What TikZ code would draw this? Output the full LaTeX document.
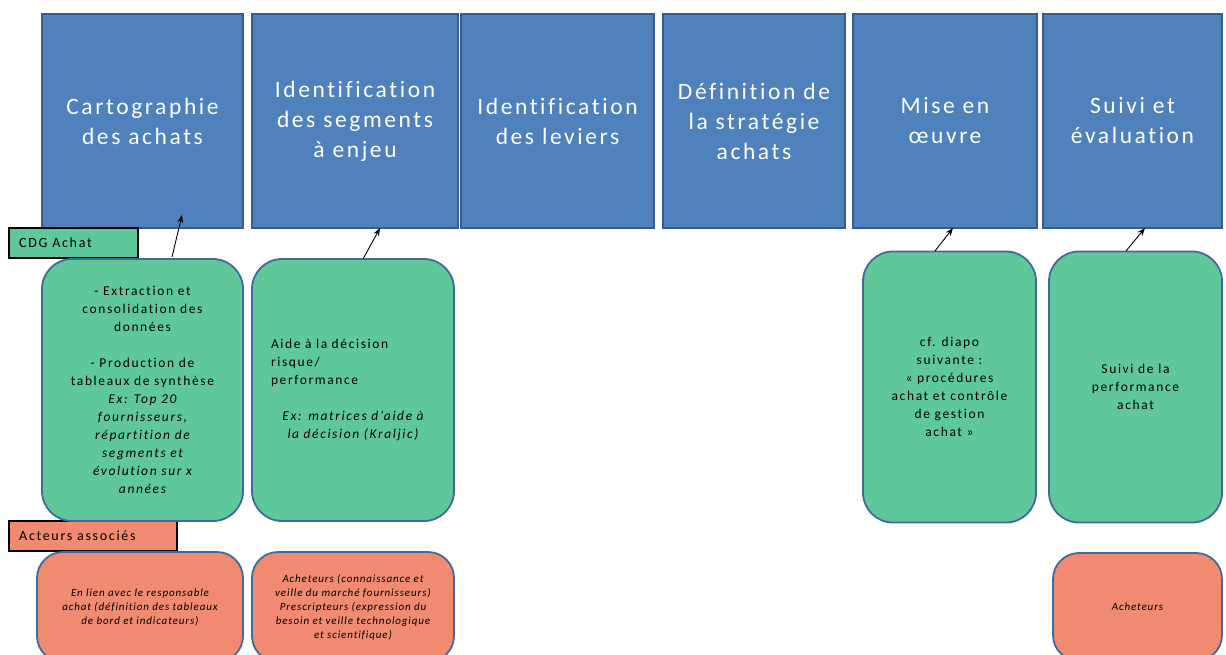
\documentclass[tikz,border=0pt]{standalone}
\usepackage{fontspec}
\setmainfont{Carlito}
\newfontfamily\titlefont[LetterSpace=11,Ligatures=NoCommon]{Carlito}
\newfontfamily\bodyfont[LetterSpace=12,Ligatures=NoCommon]{Carlito}
\newfontfamily\smallfont[LetterSpace=8,Ligatures=NoCommon]{Carlito}
\usetikzlibrary{arrows.meta}
\definecolor{stepblue}{RGB}{79,129,189}
\definecolor{stepedge}{RGB}{56,93,138}
\definecolor{toolgreen}{RGB}{95,200,155}
\definecolor{tooledge}{RGB}{65,105,155}
\definecolor{actorsalmon}{RGB}{240,138,112}
\tikzset{
  stepbox/.style={draw=stepedge, fill=stepblue, line width=1.8pt, inner sep=0pt,
    text=white, align=center, font=\titlefont\fontsize{23.5}{30}\selectfont},
  toolbox/.style={draw=tooledge, fill=toolgreen, line width=1.8pt, rounded corners=30pt,
    inner sep=0pt, font=\bodyfont\fontsize{13.5}{18}\selectfont},
  actorbox/.style={draw=tooledge, fill=actorsalmon, line width=1.8pt, rounded corners=26pt,
    inner sep=0pt, align=center, font=\smallfont\itshape\fontsize{11}{14}\selectfont},
  tagbox/.style={draw=black, line width=2.6pt, inner sep=0pt, anchor=center},
  tagtext/.style={anchor=west, xshift=8pt, font=\bodyfont\fontsize{14}{16}\selectfont},
  link/.style={-{Stealth[length=8pt,width=6pt]}, line width=0.9pt, black}
}
\begin{document}
\begin{tikzpicture}[x=1pt, y=-1pt]
\useasboundingbox (0,0) rectangle (1226,655);
\clip (0,0) rectangle (1226,655);

% process steps
\node[stepbox, minimum width=201pt, minimum height=214pt] (b1) at (142.5,121) {Cartographie\\des achats};
\node[stepbox, minimum width=206pt, minimum height=214pt] (b2) at (355,121) {Identification\\des segments\\à enjeu};
\node[stepbox, minimum width=193pt, minimum height=214pt] (b3) at (557.5,121) {Identification\\des leviers};
\node[stepbox, minimum width=182pt, minimum height=214pt] (b4) at (754,121) {Définition de\\la stratégie\\achats};
\node[stepbox, minimum width=184pt, minimum height=214pt] (b5) at (945,121) {Mise en\\œuvre};
\node[stepbox, minimum width=179pt, minimum height=214pt] (b6) at (1132.5,121) {Suivi et\\évaluation};

% row tags
\node[tagbox, fill=toolgreen, minimum width=129pt, minimum height=30pt] (cdg) at (73.5,243) {};
\node[tagtext] (cdgt) at (cdg.west) {CDG Achat};
\node[tagbox, fill=actorsalmon, minimum width=168pt, minimum height=30pt] (act) at (93,536) {};
\node[tagtext] (actt) at (act.west) {Acteurs associés};

% management control contributions
\node[toolbox, minimum width=201pt, minimum height=262pt, align=center] (g1) at (142.5,390)
  {- Extraction et\\consolidation des\\données\\[18pt]- Production de\\tableaux de synthèse\\
   \itshape Ex: Top 20\\\itshape fournisseurs,\\\itshape répartition de\\\itshape segments et\\\itshape évolution sur x\\\itshape années};
\node[toolbox, minimum width=202pt, minimum height=262pt, text width=176pt] (g2) at (353,390)
  {\raggedright\hspace*{6pt}Aide à la décision\\\hspace*{6pt}risque/\\\hspace*{6pt}performance\par
   \vspace{18pt}\centering\itshape Ex: matrices d’aide à\\la décision (Kraljic)\par};
\node[toolbox, minimum width=173pt, minimum height=271pt, align=center] (g3) at (949.5,387)
  {cf. diapo\\suivante :\\« procédures\\achat et contrôle\\de gestion\\achat »};
\node[toolbox, minimum width=173pt, minimum height=271pt, align=center] (g4) at (1135.5,387)
  {Suivi de la\\performance\\achat};

% associated actors
\node[actorbox, minimum width=206pt, minimum height=110pt] (s1) at (140,607)
  {En lien avec le responsable\\achat (définition des tableaux\\de bord et indicateurs)};
\node[actorbox, minimum width=202pt, minimum height=110pt] (s2) at (353,607)
  {Acheteurs (connaissance et\\veille du marché fournisseurs)\\Prescripteurs (expression du\\besoin et veille technologique\\et scientifique)};
\node[actorbox, minimum width=169pt, minimum height=108pt] (s3) at (1137.5,607) {Acheteurs};

% links from contributions up to the steps
\coordinate (g1top) at (172,257);
\coordinate (b1in) at (182,215);
\coordinate (g2top) at (363,259);
\coordinate (b2bot) at (380,228);
\coordinate (g3top) at (935,251);
\coordinate (b5bot) at (953,228);
\coordinate (g4top) at (1126,251);
\coordinate (b6bot) at (1145,228);
\draw[link] (g1top) -- (b1in);
\draw[link] (g2top) -- (b2bot);
\draw[link] (g3top) -- (b5bot);
\draw[link] (g4top) -- (b6bot);
\end{tikzpicture}
\end{document}
